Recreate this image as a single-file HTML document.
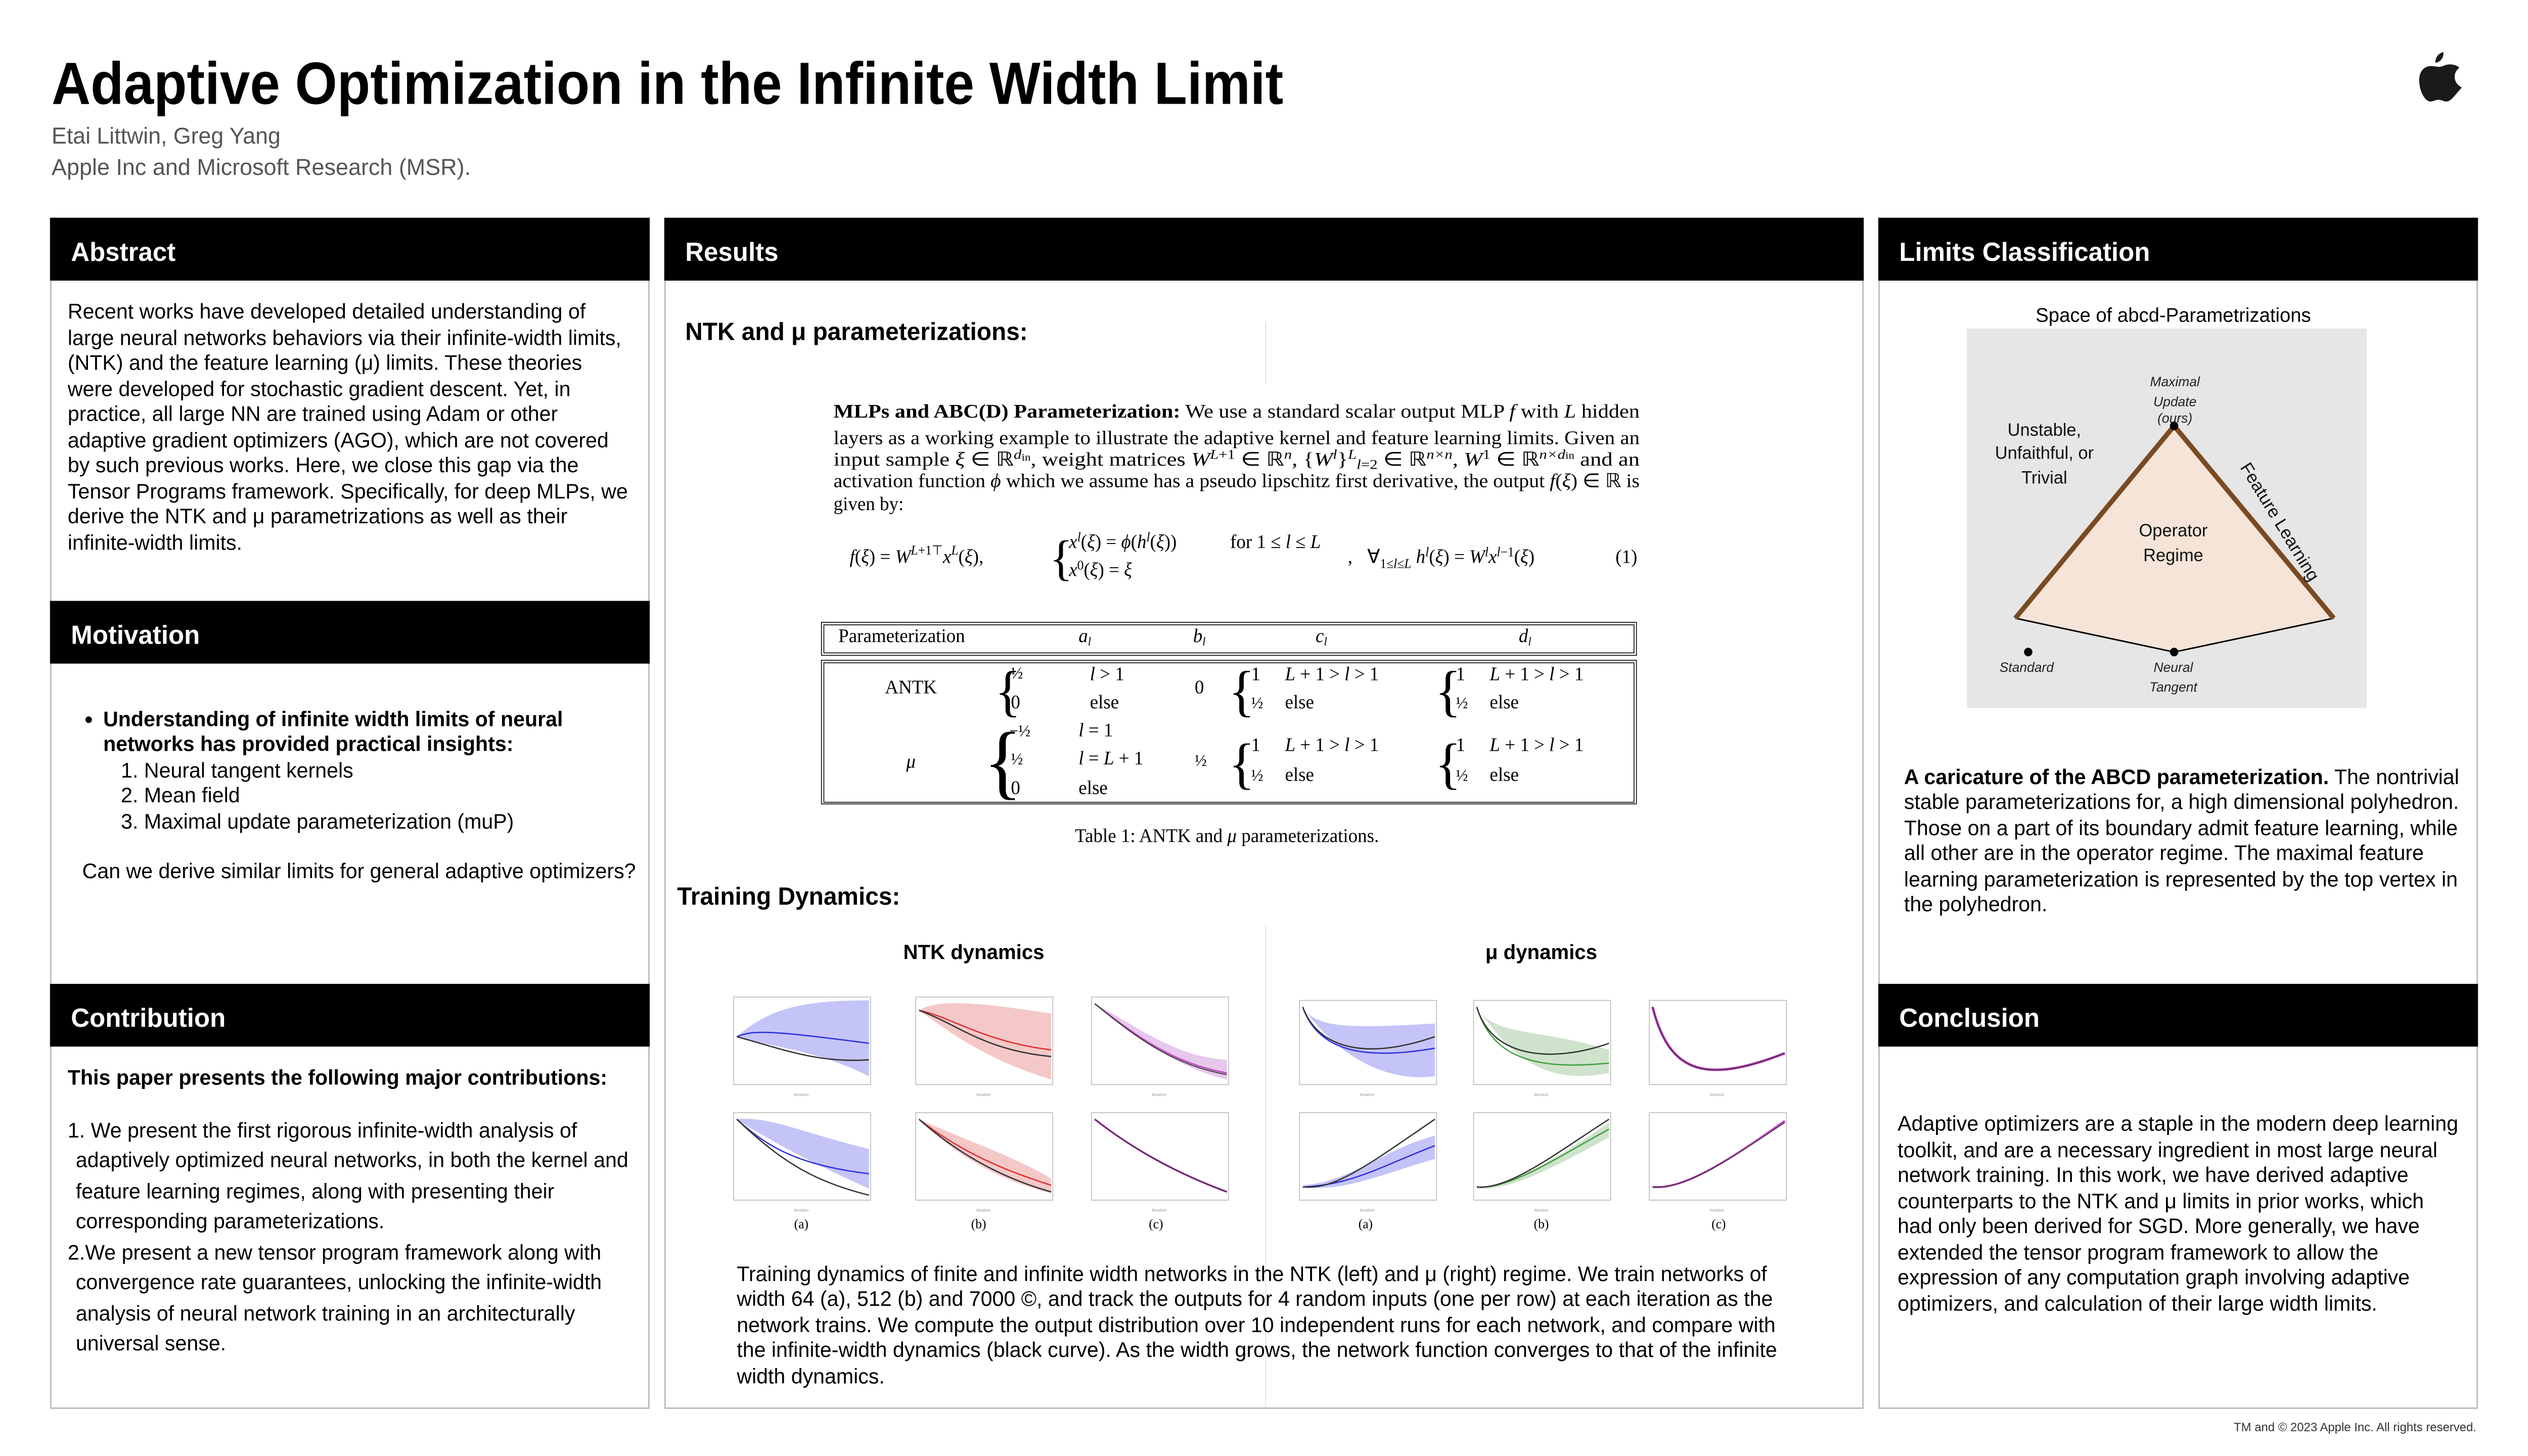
<!DOCTYPE html>
<html><head><meta charset="utf-8"><style>html,body{margin:0;padding:0;background:#fff;width:100%;height:100%;overflow:hidden}svg{display:block;width:100%;height:100%}</style></head>
<body>
<svg xmlns="http://www.w3.org/2000/svg" width="100%" height="100%" viewBox="0 0 1568 882" preserveAspectRatio="none">
<defs>
<style>
.s{font-family:"Liberation Sans",Arial,sans-serif}
.r{font-family:"Liberation Serif","Times New Roman",serif}
.b{font-size:12.9px;fill:#000;font-family:"Liberation Sans",Arial,sans-serif}
.h{font-size:16px;font-weight:bold;fill:#fff;font-family:"Liberation Sans",Arial,sans-serif}
.m{font-size:11.6px;font-family:"Liberation Serif","Times New Roman",serif}
.i{font-style:italic}
</style>
</defs>
<rect width="1568" height="882" fill="#fff"/>

<!-- Header -->
<text x="32" y="63" class="s" font-size="36" font-weight="bold" textLength="764" lengthAdjust="spacingAndGlyphs">Adaptive Optimization in the Infinite Width Limit</text>
<text x="32" y="87" class="s" font-size="14" fill="#555" textLength="142" lengthAdjust="spacingAndGlyphs">Etai Littwin, Greg Yang</text>
<text x="32" y="106" class="s" font-size="14" fill="#555" textLength="260" lengthAdjust="spacingAndGlyphs">Apple Inc and Microsoft Research (MSR).</text>
<!-- apple logo -->
<g fill="#1a1a1a">
<path d="M1515.5,31.5 C1512,32.5 1510.5,35 1510.5,38 C1513.5,37.8 1516,35 1515.5,31.5 Z"/>
<path d="M1508,40 C1503,40 1500.5,44 1500.5,48.5 C1500.5,55 1504,61.5 1507.5,61.5 C1509.5,61.5 1510,60.5 1512.5,60.5 C1515,60.5 1515.5,61.5 1517.5,61.5 C1520.5,61.5 1523.5,56.5 1527,53 C1524,51.5 1522.5,49 1522.5,46.5 C1522.5,44 1524,42 1525.5,41 C1524,39.5 1521.5,39 1519.5,39 C1516.5,39 1515,40.5 1513,40.5 C1511,40.5 1510,40 1508,40 Z"/>
</g>

<!-- Panels borders -->
<g fill="none" stroke="#aaa" stroke-width="0.7">
<rect x="31.5" y="132" width="371" height="721"/>
<rect x="412.5" y="132" width="743" height="721"/>
<rect x="1165.5" y="132" width="371" height="721"/>
</g>
<!-- Headers -->
<g fill="#000">
<rect x="31" y="132" width="372" height="38"/>
<rect x="31" y="364" width="372" height="38"/>
<rect x="31" y="596" width="372" height="38"/>
<rect x="412" y="132" width="744" height="38"/>
<rect x="1165" y="132" width="372" height="38"/>
<rect x="1165" y="596" width="372" height="38"/>
</g>
<text x="44" y="158" class="h">Abstract</text>
<text x="44" y="390" class="h">Motivation</text>
<text x="44" y="622" class="h">Contribution</text>
<text x="425" y="158" class="h">Results</text>
<text x="1178" y="158" class="h">Limits Classification</text>
<text x="1178" y="622" class="h">Conclusion</text>

<!-- Abstract -->
<g class="b">
<text x="42" y="193">Recent works have developed detailed understanding of</text>
<text x="42" y="209">large neural networks behaviors via their infinite-width limits,</text>
<text x="42" y="224">(NTK) and the feature learning (μ) limits. These theories</text>
<text x="42" y="240">were developed for stochastic gradient descent. Yet, in</text>
<text x="42" y="255">practice, all large NN are trained using Adam or other</text>
<text x="42" y="271">adaptive gradient optimizers (AGO), which are not covered</text>
<text x="42" y="286">by such previous works. Here, we close this gap via the</text>
<text x="42" y="302">Tensor Programs framework. Specifically, for deep MLPs, we</text>
<text x="42" y="317">derive the NTK and μ parametrizations as well as their</text>
<text x="42" y="333">infinite-width limits.</text>
</g>

<!-- Motivation -->
<circle cx="55" cy="436" r="2" fill="#000"/>
<g class="b">
<text x="64" y="440" font-weight="bold">Understanding of infinite width limits of neural</text>
<text x="64" y="455" font-weight="bold">networks has provided practical insights:</text>
<text x="75" y="471">1. Neural tangent kernels</text>
<text x="75" y="486">2. Mean field</text>
<text x="75" y="502">3. Maximal update parameterization (muP)</text>
<text x="51" y="532">Can we derive similar limits for general adaptive optimizers?</text>
</g>

<!-- Contribution -->
<g class="b">
<text x="42" y="657" font-weight="bold">This paper presents the following major contributions:</text>
<text x="42" y="689">1. We present the first rigorous infinite-width analysis of</text>
<text x="47" y="707">adaptively optimized neural networks, in both the kernel and</text>
<text x="47" y="726">feature learning regimes, along with presenting their</text>
<text x="47" y="744">corresponding parameterizations.</text>
<text x="42" y="763">2.We present a new tensor program framework along with</text>
<text x="47" y="781">convergence rate guarantees, unlocking the infinite-width</text>
<text x="47" y="800">analysis of neural network training in an architecturally</text>
<text x="47" y="818">universal sense.</text>
</g>

<!-- Results -->
<line x1="785" y1="195" x2="785" y2="232" stroke="#ddd" stroke-width="0.5"/>
<line x1="785" y1="560" x2="785" y2="853" stroke="#e4e4e4" stroke-width="0.5"/>
<text x="425" y="206" class="s" font-size="15" font-weight="bold">NTK and μ parameterizations:</text>

<g class="m">
<text x="517" y="253" textLength="500" lengthAdjust="spacingAndGlyphs"><tspan font-weight="bold">MLPs and ABC(D) Parameterization:</tspan>   We use a standard scalar output MLP <tspan class="i">f</tspan> with <tspan class="i">L</tspan> hidden</text>
<text x="517" y="269" textLength="500" lengthAdjust="spacingAndGlyphs">layers as a working example to illustrate the adaptive kernel and feature learning limits. Given an</text>
<text x="517" y="282" textLength="500" lengthAdjust="spacingAndGlyphs">input sample <tspan class="i">ξ</tspan> ∈ ℝ<tspan font-size="8" dy="-4" class="i">d</tspan><tspan font-size="6" dy="1">in</tspan><tspan dy="3">, weight matrices </tspan><tspan class="i">W</tspan><tspan font-size="8" dy="-4" class="i">L</tspan><tspan font-size="8">+1</tspan><tspan dy="4"> ∈ ℝ</tspan><tspan font-size="8" dy="-4" class="i">n</tspan><tspan dy="4">, {</tspan><tspan class="i">W</tspan><tspan font-size="8" dy="-4" class="i">l</tspan><tspan dy="4">}</tspan><tspan font-size="8" dy="-4" class="i">L</tspan><tspan font-size="8" dy="6" class="i">l</tspan><tspan font-size="8">=2</tspan><tspan dy="-2"> ∈ ℝ</tspan><tspan font-size="8" dy="-4" class="i">n×n</tspan><tspan dy="4">, </tspan><tspan class="i">W</tspan><tspan font-size="8" dy="-4">1</tspan><tspan dy="4"> ∈ ℝ</tspan><tspan font-size="8" dy="-4" class="i">n×d</tspan><tspan font-size="6">in</tspan><tspan dy="4"> and an</tspan></text>
<text x="517" y="295" textLength="500" lengthAdjust="spacingAndGlyphs">activation function <tspan class="i">ϕ</tspan> which we assume has a pseudo lipschitz first derivative, the output <tspan class="i">f</tspan>(<tspan class="i">ξ</tspan>) ∈ ℝ is</text>
<text x="517" y="309">given by:</text>

<text x="527" y="341"><tspan class="i">f</tspan>(<tspan class="i">ξ</tspan>) = <tspan class="i">W</tspan><tspan font-size="8" dy="-5"><tspan class="i">L</tspan>+1⊤</tspan><tspan class="i" dy="5">x</tspan><tspan font-size="8" dy="-5" class="i">L</tspan><tspan dy="5">(</tspan><tspan class="i">ξ</tspan>),</text>
<text x="651" y="348" font-size="30">{</text>
<text x="663" y="332"><tspan class="i">x</tspan><tspan font-size="8" dy="-4" class="i">l</tspan><tspan dy="4">(</tspan><tspan class="i">ξ</tspan>) = <tspan class="i">ϕ</tspan>(<tspan class="i">h</tspan><tspan font-size="8" dy="-4" class="i">l</tspan><tspan dy="4">(</tspan><tspan class="i">ξ</tspan>))</text>
<text x="763" y="332">for 1 ≤ <tspan class="i">l</tspan> ≤ <tspan class="i">L</tspan></text>
<text x="663" y="349"><tspan class="i">x</tspan><tspan font-size="8" dy="-4">0</tspan><tspan dy="4">(</tspan><tspan class="i">ξ</tspan>) = <tspan class="i">ξ</tspan></text>
<text x="836" y="341">,</text>
<text x="848" y="341">∀<tspan font-size="8" dy="3">1≤<tspan class="i">l</tspan>≤<tspan class="i">L</tspan></tspan><tspan dy="-3"> </tspan><tspan class="i">h</tspan><tspan font-size="8" dy="-4" class="i">l</tspan><tspan dy="4">(</tspan><tspan class="i">ξ</tspan>) = <tspan class="i">W</tspan><tspan font-size="8" dy="-4" class="i">l</tspan><tspan class="i" dy="4">x</tspan><tspan font-size="8" dy="-4"><tspan class="i">l</tspan>−1</tspan><tspan dy="4">(</tspan><tspan class="i">ξ</tspan>)</text>
<text x="1002" y="341">(1)</text>
</g>

<!-- Table -->
<g fill="none" stroke="#000">
<rect x="509.5" y="377" width="505.5" height="20" stroke-width="0.5"/>
<rect x="511" y="378.5" width="502.5" height="17" stroke-width="0.5"/>
<rect x="509.5" y="400" width="505.5" height="87" stroke-width="0.5"/>
<rect x="511" y="401.5" width="502.5" height="84.5" stroke-width="0.5"/>
</g>
<g class="m">
<text x="520" y="389">Parameterization</text>
<text x="669" y="389" class="i">a<tspan font-size="7" dy="2">l</tspan></text>
<text x="740" y="389" class="i">b<tspan font-size="7" dy="2">l</tspan></text>
<text x="816" y="389" class="i">c<tspan font-size="7" dy="2">l</tspan></text>
<text x="942" y="389" class="i">d<tspan font-size="7" dy="2">l</tspan></text>

<text x="565" y="420" text-anchor="middle">ANTK</text>
<text x="617" y="430" font-size="34" font-weight="100">{</text>
<text x="627" y="411" font-size="10">½</text><text x="676" y="412"><tspan class="i">l</tspan> &gt; 1</text>
<text x="627" y="429">0</text><text x="676" y="429">else</text>
<text x="741" y="420">0</text>
<text x="762" y="430" font-size="34">{</text>
<text x="776" y="412">1</text><text x="797" y="412"><tspan class="i">L</tspan> + 1 &gt; <tspan class="i">l</tspan> &gt; 1</text>
<text x="776" y="429" font-size="10">½</text><text x="797" y="429">else</text>
<text x="890" y="430" font-size="34">{</text>
<text x="903" y="412">1</text><text x="924" y="412"><tspan class="i">L</tspan> + 1 &gt; <tspan class="i">l</tspan> &gt; 1</text>
<text x="903" y="429" font-size="10">½</text><text x="924" y="429">else</text>

<text x="565" y="465" text-anchor="middle" class="i">μ</text>
<text x="610" y="478" font-size="50">{</text>
<text x="626" y="446" font-size="10">−½</text><text x="669" y="446"><tspan class="i">l</tspan> = 1</text>
<text x="627" y="463" font-size="10">½</text><text x="669" y="463"><tspan class="i">l</tspan> = <tspan class="i">L</tspan> + 1</text>
<text x="627" y="481">0</text><text x="669" y="481">else</text>
<text x="741" y="464" font-size="10">½</text>
<text x="762" y="474" font-size="34">{</text>
<text x="776" y="455">1</text><text x="797" y="455"><tspan class="i">L</tspan> + 1 &gt; <tspan class="i">l</tspan> &gt; 1</text>
<text x="776" y="473" font-size="10">½</text><text x="797" y="473">else</text>
<text x="890" y="474" font-size="34">{</text>
<text x="903" y="455">1</text><text x="924" y="455"><tspan class="i">L</tspan> + 1 &gt; <tspan class="i">l</tspan> &gt; 1</text>
<text x="903" y="473" font-size="10">½</text><text x="924" y="473">else</text>

<text x="761" y="510" text-anchor="middle">Table 1: ANTK and <tspan class="i">μ</tspan> parameterizations.</text>
</g>

<text x="420" y="548" class="s" font-size="15" font-weight="bold">Training Dynamics:</text>
<text x="604" y="581" class="s" font-size="12.6" font-weight="bold" text-anchor="middle">NTK dynamics</text>
<text x="956" y="581" class="s" font-size="12.6" font-weight="bold" text-anchor="middle">μ dynamics</text>

<!-- plot frames -->
<g fill="none" stroke="#bbb" stroke-width="0.5">
<rect x="455" y="604" width="85" height="53"/><rect x="568" y="604" width="85" height="53"/><rect x="677" y="604" width="85" height="53"/>
<rect x="455" y="674" width="85" height="53"/><rect x="568" y="674" width="85" height="53"/><rect x="677" y="674" width="85" height="53"/>
<rect x="806" y="606" width="85" height="51"/><rect x="914" y="606" width="85" height="51"/><rect x="1023" y="606" width="85" height="51"/>
<rect x="806" y="674" width="85" height="53"/><rect x="914" y="674" width="85" height="53"/><rect x="1023" y="674" width="85" height="53"/>
</g>
<g fill="#999" font-size="2.5" class="s">
<text x="497" y="664" text-anchor="middle">Iteration</text><text x="610" y="664" text-anchor="middle">Iteration</text><text x="719" y="664" text-anchor="middle">Iteration</text>
<text x="497" y="734" text-anchor="middle">Iteration</text><text x="610" y="734" text-anchor="middle">Iteration</text><text x="719" y="734" text-anchor="middle">Iteration</text>
<text x="848" y="664" text-anchor="middle">Iteration</text><text x="956" y="664" text-anchor="middle">Iteration</text><text x="1065" y="664" text-anchor="middle">Iteration</text>
<text x="848" y="734" text-anchor="middle">Iteration</text><text x="956" y="734" text-anchor="middle">Iteration</text><text x="1065" y="734" text-anchor="middle">Iteration</text>
</g>

<!-- NTK row1 -->
<g transform="translate(457,606)">
<path d="M0,22 C20,5 40,0 82,0 L82,46 C50,30 20,28 0,22Z" fill="#c4c4f8"/>
<path d="M0,22 C10,18 20,18 82,26" stroke="#3030e0" fill="none" stroke-width="0.8"/>
<path d="M0,22 C30,30 50,38 82,36" stroke="#333" fill="none" stroke-width="0.8"/>
</g>
<g transform="translate(570,606)">
<path d="M0,6 C10,0 30,0 82,8 L82,48 C40,35 20,20 0,6Z" fill="#f5c8c8"/>
<path d="M0,6 C20,10 40,25 82,30" stroke="#e03030" fill="none" stroke-width="0.8"/>
<path d="M0,6 C25,15 40,30 82,34" stroke="#333" fill="none" stroke-width="0.8"/>
</g>
<g transform="translate(679,606)">
<path d="M0,2 C30,18 50,34 82,36 L82,48 C50,40 30,25 0,2Z" fill="#e6c8ec"/>
<path d="M0,2 C30,25 50,38 82,44" stroke="#c040c0" fill="none" stroke-width="0.8"/>
<path d="M0,2 C30,26 50,39 82,45" stroke="#333" fill="none" stroke-width="0.6"/>
</g>
<!-- NTK row2 -->
<g transform="translate(457,676)">
<path d="M0,2 C20,0 40,10 82,20 L82,44 C50,30 20,15 0,2Z" fill="#c4c4f8"/>
<path d="M0,2 C20,20 40,30 82,35" stroke="#3030e0" fill="none" stroke-width="0.8"/>
<path d="M0,2 C30,30 50,40 82,48" stroke="#333" fill="none" stroke-width="0.8"/>
</g>
<g transform="translate(570,676)">
<path d="M0,2 C30,15 60,25 82,38 L82,47 C40,36 20,20 0,2Z" fill="#f5c8c8"/>
<path d="M0,2 C30,25 60,35 82,42" stroke="#e03030" fill="none" stroke-width="0.8"/>
<path d="M0,2 C30,28 60,40 82,46" stroke="#333" fill="none" stroke-width="0.8"/>
</g>
<g transform="translate(679,676)">
<path d="M0,2 C30,25 60,38 82,46" stroke="#c040c0" fill="none" stroke-width="1.2"/>
<path d="M0,2 C30,25 60,38 82,46" stroke="#333" fill="none" stroke-width="0.5"/>
</g>
<!-- mu row1 -->
<g transform="translate(808,608)">
<path d="M0,2 C8,15 30,15 82,12 L82,44 C50,48 20,30 0,2Z" fill="#c4c4f8"/>
<path d="M0,2 C10,30 40,34 82,27" stroke="#3030e0" fill="none" stroke-width="0.8"/>
<path d="M0,2 C10,28 40,34 82,20" stroke="#333" fill="none" stroke-width="0.8"/>
</g>
<g transform="translate(916,608)">
<path d="M0,2 C10,20 40,15 82,28 L82,42 C40,50 20,30 0,2Z" fill="#cfe3cc"/>
<path d="M0,2 C10,35 40,40 82,36" stroke="#40a040" fill="none" stroke-width="0.8"/>
<path d="M0,2 C10,35 50,35 82,24" stroke="#333" fill="none" stroke-width="0.8"/>
</g>
<g transform="translate(1025,608)">
<path d="M0,2 C10,40 30,50 82,30" stroke="#c040c0" fill="none" stroke-width="1.6"/>
<path d="M0,2 C10,40 30,50 82,30" stroke="#333" fill="none" stroke-width="0.5"/>
</g>
<!-- mu row2 -->
<g transform="translate(808,676)">
<path d="M0,42 C30,40 50,20 82,12 L82,26 C50,35 20,48 0,42Z" fill="#c4c4f8"/>
<path d="M0,43 C30,42 50,30 82,18" stroke="#3030e0" fill="none" stroke-width="0.8"/>
<path d="M0,43 C20,45 40,30 82,2" stroke="#333" fill="none" stroke-width="0.8"/>
</g>
<g transform="translate(916,676)">
<path d="M0,43 C20,44 50,25 82,4 L82,13 C50,30 20,46 0,44Z" fill="#cfe3cc"/>
<path d="M0,43 C20,45 50,25 82,8" stroke="#40a040" fill="none" stroke-width="0.8"/>
<path d="M0,43 C20,45 50,22 82,2" stroke="#333" fill="none" stroke-width="0.8"/>
</g>
<g transform="translate(1025,676)">
<path d="M0,43 C20,45 50,25 82,3" stroke="#c040c0" fill="none" stroke-width="1.2"/>
<path d="M0,43 C20,45 50,25 82,4" stroke="#333" fill="none" stroke-width="0.5"/>
</g>

<g class="r" font-size="8" text-anchor="middle">
<text x="497" y="744">(a)</text><text x="607" y="744">(b)</text><text x="717" y="744">(c)</text>
<text x="847" y="744">(a)</text><text x="956" y="744">(b)</text><text x="1066" y="744">(c)</text>
</g>

<g class="b">
<text x="457" y="776">Training dynamics of finite and infinite width networks in the NTK (left) and μ (right)  regime. We train networks of</text>
<text x="457" y="791">width 64 (a), 512 (b) and 7000 ©, and track the outputs for 4 random inputs (one per row) at each iteration as the</text>
<text x="457" y="807">network trains. We compute the output distribution over 10 independent runs for each network, and compare with</text>
<text x="457" y="822">the infinite-width dynamics (black curve). As the width grows, the network function converges to that of the infinite</text>
<text x="457" y="838">width dynamics.</text>
</g>

<!-- Limits Classification diagram -->
<text x="1348" y="195" class="s" font-size="12" text-anchor="middle">Space of abcd-Parametrizations</text>
<rect x="1220" y="199" width="248" height="230" fill="#e6e6e6"/>
<polygon points="1348.5,258 1250,374.5 1348.5,395 1447.5,374.5" fill="#f5e4d7"/>
<polyline points="1250,374.5 1348.5,395 1447.5,374.5" fill="none" stroke="#000" stroke-width="0.9"/>
<polyline points="1250,374.5 1348.5,258 1447.5,374.5" fill="none" stroke="#7a4a22" stroke-width="3" stroke-linejoin="round"/>
<circle cx="1348.5" cy="258" r="2.6" fill="#000"/>
<circle cx="1348.5" cy="395" r="2.6" fill="#000"/>
<circle cx="1258" cy="395" r="2.6" fill="#000"/>
<g class="s" text-anchor="middle" font-size="8.3" font-style="italic" fill="#222">
<text x="1349" y="234">Maximal</text>
<text x="1349" y="246">Update</text>
<text x="1349" y="256">(ours)</text>
<text x="1257" y="407">Standard</text>
<text x="1348" y="407">Neural</text>
<text x="1348" y="419">Tangent</text>
</g>
<g class="s" text-anchor="middle" font-size="10.8" fill="#111">
<text x="1268" y="264">Unstable,</text>
<text x="1268" y="278">Unfaithful, or</text>
<text x="1268" y="293">Trivial</text>
<text x="1348" y="325">Operator</text>
<text x="1348" y="340">Regime</text>
<text x="0" y="0" transform="translate(1411,318) rotate(58)">Feature Learning</text>
</g>

<g class="b">
<text x="1181" y="475"><tspan font-weight="bold">A caricature of the ABCD parameterization.</tspan> The nontrivial</text>
<text x="1181" y="490">stable parameterizations for, a high dimensional polyhedron.</text>
<text x="1181" y="506">Those on a part of its boundary admit feature learning, while</text>
<text x="1181" y="521">all other are in the operator regime. The maximal feature</text>
<text x="1181" y="537">learning parameterization is represented by the top vertex in</text>
<text x="1181" y="552">the polyhedron.</text>
</g>

<g class="b">
<text x="1177" y="685">Adaptive optimizers are a staple in the modern deep learning</text>
<text x="1177" y="701">toolkit, and are a necessary ingredient in most large neural</text>
<text x="1177" y="716">network training. In this work, we have derived adaptive</text>
<text x="1177" y="732">counterparts to the NTK and μ limits in prior works, which</text>
<text x="1177" y="747">had only been derived for SGD. More generally, we have</text>
<text x="1177" y="763">extended the tensor program framework to allow the</text>
<text x="1177" y="778">expression of any computation graph involving adaptive</text>
<text x="1177" y="794">optimizers, and calculation of their large width limits.</text>
</g>

<text x="1536" y="867" class="s" font-size="7.5" fill="#333" text-anchor="end">TM and © 2023 Apple Inc. All rights reserved.</text>
</svg>
</body></html>
